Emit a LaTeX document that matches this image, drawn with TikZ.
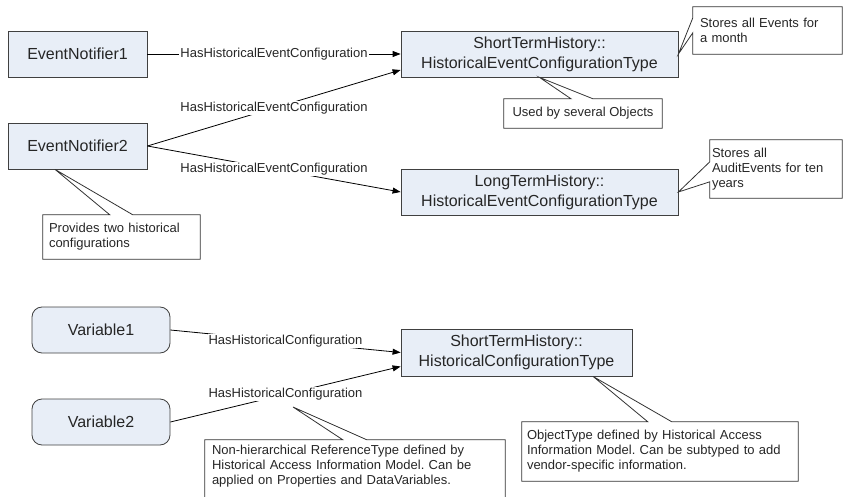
\documentclass[tikz,border=0pt]{standalone}
\usepackage{fontspec}
\setmainfont{Liberation Sans}
\usetikzlibrary{arrows.meta}
\definecolor{boxfill}{RGB}{232,238,247}
\definecolor{boxline}{RGB}{64,64,64}
\frenchspacing
\begin{document}
\begin{tikzpicture}[x=1pt,y=-1pt,
  objbox/.style={draw=boxline, fill=boxfill, line width=0.8pt, inner sep=0pt, align=center,
    font=\fontsize{16}{20}\selectfont, text=black!85},
  rbox/.style={objbox, rounded corners=10pt},
  ref/.style={line width=0.8pt, -{Triangle[length=8pt,width=6pt]}},
  reflabel/.style={fill=white, inner sep=1pt, font=\fontsize{13}{15}\selectfont, text=black!85},
  note/.style={inner sep=0pt, font=\fontsize{13}{15}\selectfont, align=left, text=black!85},
  noteline/.style={draw=black!80, line width=0.8pt}
]
\useasboundingbox (0,0) rectangle (843,497);

% main objects
\node[objbox, minimum width=139pt, minimum height=46pt] (en1) at (77.5,54) {EventNotifier1};
\node[objbox, minimum width=139pt, minimum height=46pt] (en2) at (77.5,146) {EventNotifier2};
\node[objbox, minimum width=277pt, minimum height=46pt] (st) at (539.5,54) {ShortTermHistory::\\HistoricalEventConfigurationType};
\node[objbox, minimum width=277pt, minimum height=46pt] (lt) at (539.5,192) {LongTermHistory::\\HistoricalEventConfigurationType};
\node[rbox, minimum width=138pt, minimum height=46pt] (v1) at (101,330) {Variable1};
\node[rbox, minimum width=138pt, minimum height=46pt] (v2) at (101,422) {Variable2};
\node[objbox, minimum width=231pt, minimum height=47pt] (hc) at (516.5,352.5) {ShortTermHistory::\\HistoricalConfigurationType};

\coordinate (st-in2) at ([yshift=-16pt]st.west);
\coordinate (hc-in2) at ([yshift=-14pt]hc.west);

% references
\draw[ref] (en1.east) -- node[reflabel] {HasHistoricalEventConfiguration} (st.west);
\draw[ref] (en2.east) -- node[reflabel] {HasHistoricalEventConfiguration} (st-in2);
\draw[ref] (en2.east) -- node[reflabel] {HasHistoricalEventConfiguration} (lt.west);
\draw[ref] (v1.east) -- node[reflabel] {HasHistoricalConfiguration} (hc.west);
\draw[ref] (v2.east) -- node[reflabel] (lbl2) {HasHistoricalConfiguration} (hc-in2);

% callout 1
\node[note, minimum width=149pt, minimum height=47pt, text width=135pt] (n1) at (767.5,30.5) {Stores all Events for\\a month};
\draw[noteline] (n1.north west) -- (n1.north east) -- (n1.south east) -- (n1.south west)
  -- ([yshift=-26pt]n1.north west) -- (st.east) -- ([yshift=-11pt]n1.north west) -- cycle;

% callout 2
\node[note, minimum width=158pt, minimum height=29pt, align=center] (n2) at (583,113.5) {Used by several Objects};
\draw[noteline] (n2.north west) -- ([xshift=-12pt]n2.north) -- (st.south) -- ([xshift=10pt]n2.north)
  -- (n2.north east) -- (n2.south east) -- (n2.south west) -- cycle;

% callout 3
\node[note, minimum width=132pt, minimum height=58pt, text width=128pt] (n3) at (776,169) {Stores all\\AuditEvents for ten\\years};
\draw[noteline] (n3.north west) -- (n3.north east) -- (n3.south east) -- (n3.south west)
  -- ([yshift=-42pt]n3.north west) -- (lt.east) -- ([yshift=-22pt]n3.north west) -- cycle;

% callout 4
\coordinate (en2-tip) at ([xshift=-22.5pt]en2.south);
\node[note, minimum width=157pt, minimum height=44pt, text width=145pt] (n4) at (121.5,237) {Provides two historical\\configurations};
\draw[noteline] (n4.north west) -- ([xshift=67pt]n4.north west) -- (en2-tip) -- ([xshift=90pt]n4.north west)
  -- (n4.north east) -- (n4.south east) -- (n4.south west) -- cycle;

% callout 5
\coordinate (t5) at (293,407);
\node[note, minimum width=300pt, minimum height=53pt, text width=286pt] (n5) at (355,466.5) {Non-hierarchical ReferenceType defined by\\Historical Access Information Model. Can be\\applied on Properties and DataVariables.};
\draw[noteline] ([yshift=-8pt]n5.south west) -- (n5.north west) -- ([xshift=138pt]n5.north west) -- (t5)
  -- ([xshift=162pt]n5.north west) -- (n5.north east) -- ([yshift=-8pt]n5.south east);

% callout 6
\coordinate (hc-tip) at ([xshift=76.5pt]hc.south);
\node[note, minimum width=276pt, minimum height=59pt, text width=266pt] (n6) at (660,451.5) {ObjectType defined by Historical Access\\Information Model. Can be subtyped to add\\vendor-specific information.};
\draw[noteline] (n6.north west) -- ([xshift=126pt]n6.north west) -- (hc-tip) -- ([xshift=150pt]n6.north west)
  -- (n6.north east) -- (n6.south east) -- (n6.south west) -- cycle;
\end{tikzpicture}
\end{document}
